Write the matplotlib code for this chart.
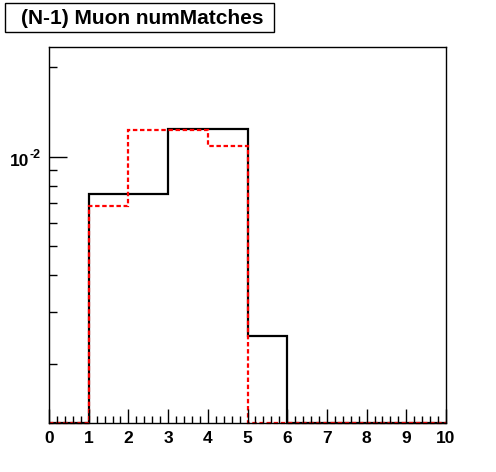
import numpy as np
import matplotlib
matplotlib.use("Agg")
import matplotlib.pyplot as plt
from matplotlib.patches import Rectangle
from matplotlib.ticker import FixedLocator, MultipleLocator, NullFormatter

# Histogram data (bin edges 0..10, width 1)
bin_edges = np.arange(0, 11)
black_vals = [0, 7.5e-3, 7.5e-3, 1.24e-2, 1.24e-2, 2.5e-3, 0, 0, 0, 0]
red_vals = [0, 6.8e-3, 1.23e-2, 1.23e-2, 1.09e-2, 0, 0, 0, 0, 0]
title_text = "(N-1) Muon numMatches"

ymin, ymax = 1.27e-3, 2.34e-2

plt.rcParams['font.family'] = ['Liberation Sans', 'DejaVu Sans']

fig = plt.figure(figsize=(4.96, 4.72), dpi=100)
ax = fig.add_axes([49 / 496, 49 / 472, 397 / 496, 376 / 472])

# zero bins sit on the bottom frame, like ROOT draws them
black_draw = np.where(np.array(black_vals) > 0, black_vals, ymin)
red_draw = np.where(np.array(red_vals) > 0, red_vals, ymin)

ax.stairs(black_draw, bin_edges, color='black', lw=1.6, baseline=None, clip_on=False)
ax.stairs(red_draw, bin_edges, color='red', lw=1.6, ls=(0, (2, 1.2)), baseline=None, clip_on=False)

ax.set_yscale('log')
ax.set_xlim(0, 10)
ax.set_ylim(ymin, ymax)

# x ticks
ax.xaxis.set_major_locator(MultipleLocator(1))
ax.xaxis.set_minor_locator(MultipleLocator(0.2))
ax.tick_params(axis='x', which='major', direction='in', length=10, width=1,
               labelsize=12.5, pad=6, top=False)
ax.tick_params(axis='x', which='minor', direction='in', length=5, width=1, top=False)
for lab in ax.get_xticklabels():
    lab.set_fontweight('bold')

# y ticks
ax.yaxis.set_major_locator(FixedLocator([1e-2]))
ax.yaxis.set_minor_locator(FixedLocator([2e-3, 3e-3, 4e-3, 5e-3, 6e-3, 7e-3, 8e-3, 9e-3, 2e-2]))
ax.yaxis.set_minor_formatter(NullFormatter())
ax.set_yticklabels([''])
ax.tick_params(axis='y', which='major', direction='in', length=13, width=1, right=False)
ax.tick_params(axis='y', which='minor', direction='in', length=6, width=1, right=False)

# "10^-2" label, ROOT style with a plain hyphen
fig.text(29.5 / 496, 1 - 161 / 472, "10", ha='right', va='center',
         fontsize=12.5, fontweight='bold')
fig.text(30 / 496, 1 - 155 / 472, "-2", ha='left', va='center',
         fontsize=9, fontweight='bold')

for sp in ax.spines.values():
    sp.set_linewidth(1)

# title box
fig.patches.append(Rectangle((5 / 496, 1 - 32 / 472), 269 / 496, 29 / 472,
                             transform=fig.transFigure, fc='white', ec='black', lw=1))
fig.text(142 / 496, 1 - 18 / 472, title_text, ha='center', va='center',
         fontsize=15, fontweight='bold')

fig.savefig('out.png', dpi=100)
